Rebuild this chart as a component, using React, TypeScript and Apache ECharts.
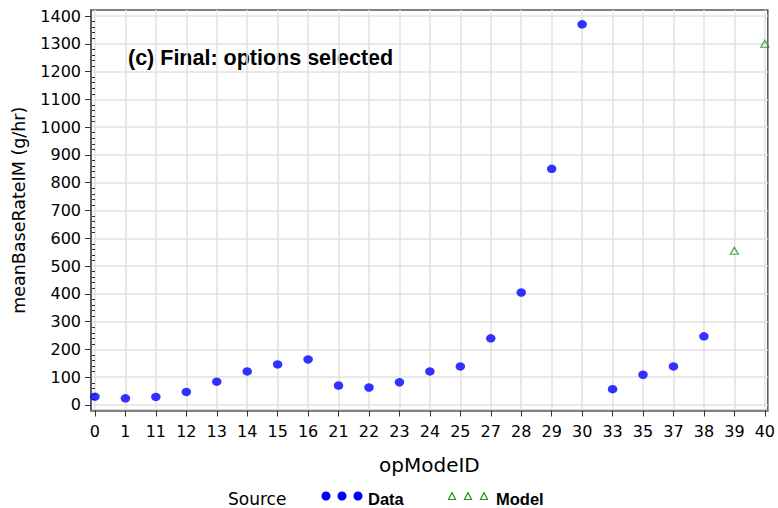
import React, { useEffect, useRef } from 'react';
import * as echarts from 'echarts';

const categories = ['0', '1', '11', '12', '13', '14', '15', '16', '21', '22', '23', '24', '25', '27', '28', '29', '30', '33', '35', '37', '38', '39', '40'];
const dataCategories = ['0', '1', '11', '12', '13', '14', '15', '16', '21', '22', '23', '24', '25', '27', '28', '29', '30', '33', '35', '37', '38'];
const dataValues = [30, 24, 29, 47, 84, 121, 146, 164, 70, 63, 82, 121, 139, 240, 405, 850, 1370, 57, 109, 139, 247];
const modelCategories = ['39', '40'];
const modelValues = [555, 1300];
const yTickValues = [0, 100, 200, 300, 400, 500, 600, 700, 800, 900, 1000, 1100, 1200, 1300, 1400];

export default function App() {
  const ref = useRef<HTMLDivElement>(null);
  useEffect(() => {
    document.body.style.margin = '0';
    const chart = echarts.init(ref.current!, null, { renderer: 'svg' });
    const catIdx = categories.map((_, i) => i);
    const gridColor = '#e2e2e2';
    const blue = '#0000ff';
    const green = '#1a8f1a';
    const legendY = 496;
    const tri = (cx: number) => ({
      type: 'polygon',
      shape: { points: [[cx - 3.5, legendY + 3.5], [cx, legendY - 3.5], [cx + 3.5, legendY + 3.5]] },
      style: { fill: 'none', stroke: green, lineWidth: 1.2 },
    });
    const dot = (cx: number) => ({
      type: 'circle',
      shape: { cx, cy: legendY, r: 4.5 },
      style: { fill: blue },
    });
    chart.setOption({
      animation: false,
      backgroundColor: '#ffffff',
      textStyle: { fontFamily: 'DejaVu Sans' },
      grid: [
        { left: 91, right: 6, top: 10, bottom: 97.5, show: true, borderColor: '#555', borderWidth: 1.5 },
        { left: 95, right: 9, top: 16, bottom: 103 },
      ],
      xAxis: [
        {
          gridIndex: 0,
          type: 'value',
          min: -0.13,
          max: 22.098,
          axisLine: { show: true, onZero: false, lineStyle: { color: '#808080', width: 2 } },
          axisTick: { show: true, length: 6, customValues: catIdx, lineStyle: { color: '#333' } },
          axisLabel: {
            customValues: catIdx,
            formatter: (v: number) => categories[Math.round(v)] ?? '',
            fontSize: 16,
            color: '#000',
            margin: 13,
            fontFamily: 'DejaVu Sans',
          },
          splitLine: { show: true, lineStyle: { color: gridColor, width: 1.5 } },
          name: 'opModeID',
          nameLocation: 'middle',
          nameGap: 44,
          nameTextStyle: { fontSize: 20, color: '#000', fontFamily: 'DejaVu Sans' },
        },
        { gridIndex: 1, type: 'value', show: false, min: 0, max: 1 },
      ],
      yAxis: [
        {
          gridIndex: 0,
          type: 'value',
          min: -19.8,
          max: 1421.6,
          axisLine: { show: true, onZero: false, lineStyle: { color: '#555', width: 1.5 } },
          axisTick: { show: true, length: 6, customValues: yTickValues, lineStyle: { color: '#333' } },
          axisLabel: {
            customValues: yTickValues,
            formatter: (v: number) => String(Math.round(v)),
            fontSize: 16,
            color: '#000',
            margin: 10,
            fontFamily: 'DejaVu Sans',
          },
          splitLine: { show: true, lineStyle: { color: gridColor, width: 1.5 } },
          name: 'meanBaseRateIM (g/hr)',
          nameLocation: 'middle',
          nameGap: 63,
          nameTextStyle: { fontSize: 17.5, color: '#000', fontFamily: 'DejaVu Sans' },
        },
        {
          gridIndex: 1,
          type: 'value',
          min: 0,
          max: 1400,
          interval: 100,
          offset: 4,
          axisLine: { show: false },
          axisTick: { show: false },
          axisLabel: { show: false },
          splitLine: { show: false },
          minorTick: { show: true, splitNumber: 5, length: 3, lineStyle: { color: '#333' } },
        },
      ],
      series: [
        {
          name: 'Data',
          type: 'scatter',
          xAxisIndex: 0,
          yAxisIndex: 0,
          symbol: 'circle',
          symbolSize: [9.5, 8.5],
          itemStyle: { color: blue },
          data: dataCategories.map((c, i) => [categories.indexOf(c), dataValues[i]]),
        },
        {
          name: 'Model',
          type: 'scatter',
          xAxisIndex: 0,
          yAxisIndex: 0,
          symbol: 'triangle',
          symbolSize: [8, 7],
          clip: false,
          itemStyle: { color: 'none', borderColor: green, borderWidth: 1.2 },
          data: modelCategories.map((c, i) => [categories.indexOf(c), modelValues[i]]),
        },
      ],
      graphic: [
        {
          type: 'text',
          x: 128,
          y: 58,
          style: {
            text: '(c) Final: options selected',
            fontFamily: 'Liberation Sans',
            fontWeight: 'bold',
            fontSize: 21.5,
            fill: '#000',
            verticalAlign: 'middle',
          },
        },
        {
          type: 'text',
          x: 228,
          y: 499,
          style: { text: 'Source', fontFamily: 'DejaVu Sans', fontSize: 17, fill: '#000', verticalAlign: 'middle' },
        },
        dot(326),
        dot(342),
        dot(358),
        {
          type: 'text',
          x: 368,
          y: 499,
          style: { text: 'Data', fontFamily: 'Liberation Sans', fontWeight: 'bold', fontSize: 16.5, fill: '#000', verticalAlign: 'middle' },
        },
        tri(452),
        tri(468),
        tri(484),
        {
          type: 'text',
          x: 496,
          y: 499,
          style: { text: 'Model', fontFamily: 'Liberation Sans', fontWeight: 'bold', fontSize: 16.5, fill: '#000', verticalAlign: 'middle' },
        },
      ],
    });
    return () => chart.dispose();
  }, []);
  return <div ref={ref} style={{ width: 778, height: 508 }} />;
}
